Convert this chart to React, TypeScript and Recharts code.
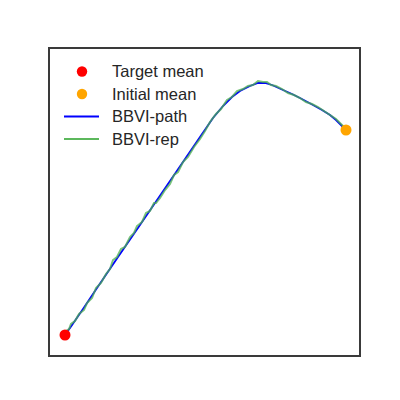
import { ComposedChart, Line, Scatter, XAxis, YAxis } from "recharts";

// plot units: x 0..310, y 0..308 (frame of the reference)
const targetMean = [{ x: 15, y: 20 }];
const initialMean = [{ x: 296, y: 225 }];

const pathX = [15, 20, 33, 47, 68, 90, 105, 120, 135, 150, 163, 173, 182, 190, 200, 208, 215, 222, 233, 242, 250, 263, 272, 280, 286, 291, 296];
const pathY = [20, 27, 46, 67, 98, 130, 152, 174, 196, 218, 237, 249, 258, 264, 269, 272, 272, 270, 265, 261, 257, 250, 245, 240, 235, 230, 225];

const repX = [16, 19, 21, 25, 29, 34, 37, 42, 46, 51, 56, 60, 63, 67, 71, 75, 80, 84, 87, 92, 96, 100, 104, 106, 110, 115, 120, 124, 128, 133, 138, 144, 150, 155, 160, 166, 171, 177, 182, 187, 193, 198, 203, 208, 213, 217, 221, 226, 232, 238, 244, 250, 256, 262, 268, 274, 280, 286, 291, 296];
const repY = [24, 26, 31, 34, 41, 45, 52, 57, 67, 72, 81, 86, 95, 98, 106, 108, 118, 122, 129, 133, 142, 144, 152, 152, 157, 165, 171, 180, 183, 193, 198, 208, 216, 224, 233, 241, 246, 255, 258, 264, 266, 269, 270, 274, 273, 273, 270, 269, 266, 262, 260, 257, 253, 251, 248, 244, 240, 236, 231, 226];

const pathData = pathX.map((x, i) => ({ x, y: pathY[i] }));
const repData = repX.map((x, i) => ({ x, y: repY[i] }));

const legendItems = [
  { label: "Target mean", kind: "dot", color: "#ff0000" },
  { label: "Initial mean", kind: "dot", color: "#ffa500" },
  { label: "BBVI-path", kind: "line", color: "#0000ff" },
  { label: "BBVI-rep", kind: "line", color: "#5cb85c" },
];

const dot = (color: string) => (props: any) => (
  <circle cx={props.cx} cy={props.cy} r={5.5} fill={color} />
);

export default function App() {
  return (
    <div style={{ position: "absolute", left: 0, top: 0, width: 400, height: 400, background: "#fff" }}>
      <ComposedChart width={400} height={400} margin={{ left: 50, right: 40, top: 47, bottom: 45 }}>
        <XAxis type="number" dataKey="x" domain={[0, 310]} hide />
        <YAxis type="number" dataKey="y" domain={[0, 308]} hide />
        <Line data={pathData} dataKey="y" type="linear" stroke="#0000ff" strokeWidth={1.8} dot={false} isAnimationActive={false} />
        <Line data={repData} dataKey="y" type="linear" stroke="#4caf50" strokeOpacity={0.75} strokeWidth={2} dot={false} isAnimationActive={false} />
        <Scatter data={targetMean} shape={dot("#ff0000")} isAnimationActive={false} />
        <Scatter data={initialMean} shape={dot("#ffa500")} isAnimationActive={false} />
      </ComposedChart>
      <div style={{ position: "absolute", left: 48, top: 47, width: 313, height: 310, border: "2px solid #3a3a3a", boxSizing: "border-box", pointerEvents: "none" }} />
      <svg width={400} height={400} style={{ position: "absolute", left: 0, top: 0, pointerEvents: "none" }}>
        {legendItems.map((it, i) => {
          const y = 71.5 + i * 22.5;
          return (
            <g key={it.label}>
              {it.kind === "dot" ? (
                <circle cx={82} cy={y} r={5.2} fill={it.color} />
              ) : (
                <line x1={64} x2={99} y1={y} y2={y} stroke={it.color} strokeWidth={2} />
              )}
              <text x={112} y={y + 5.5} fontSize={16.5} fill="#262626" fontFamily="'Liberation Sans', Arial, sans-serif">
                {it.label}
              </text>
            </g>
          );
        })}
      </svg>
    </div>
  );
}
